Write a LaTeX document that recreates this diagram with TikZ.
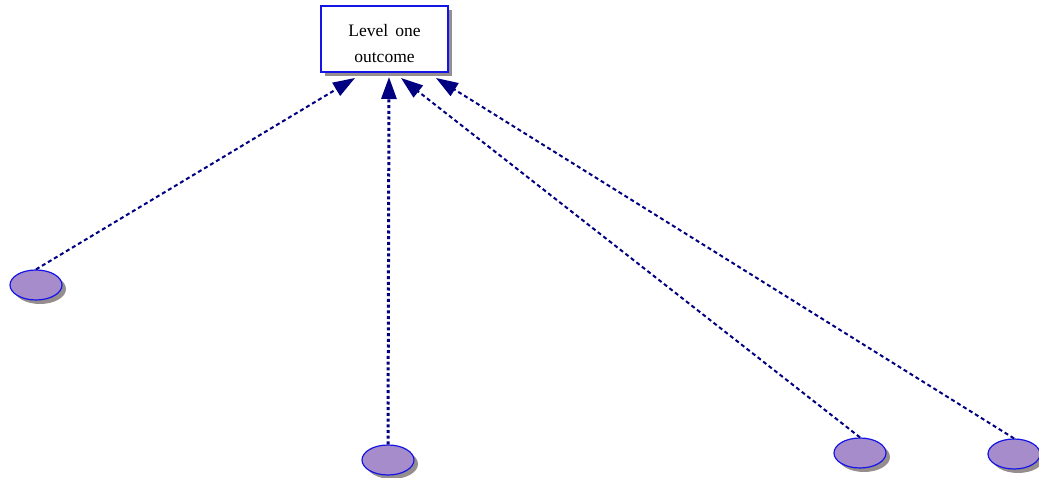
\documentclass[tikz,border=0pt]{standalone}
\usepackage{fontspec}
\setmainfont{Liberation Serif}
\usetikzlibrary{shadows,arrows.meta,shapes.geometric}
\definecolor{navy}{RGB}{0,0,128}
\definecolor{edgeblue}{RGB}{20,20,230}
\definecolor{lavender}{RGB}{167,140,204}
\definecolor{shade}{RGB}{150,142,142}
\tikzset{
  outcome/.style={draw=edgeblue, line width=1.3pt, fill=white, minimum width=127pt,
    minimum height=66pt, inner sep=0pt, align=center,
    font=\fontsize{17.5}{26}\selectfont,
    drop shadow={shadow xshift=4pt, shadow yshift=-4pt, fill=shade, opacity=1}},
  factor/.style={ellipse, draw=edgeblue, line width=1.2pt, fill=lavender,
    minimum width=52pt, minimum height=30pt, inner sep=0pt,
    drop shadow={shadow xshift=4pt, shadow yshift=-4pt, fill=shade, opacity=1}},
  link/.style={draw=navy, line width=2pt, dash pattern=on 4pt off 3pt,
    -{Triangle[length=22pt,width=15pt,fill=navy]}},
  thicklink/.style={link, line width=3pt, dash pattern=on 3pt off 2.7pt}
}
\begin{document}
\begin{tikzpicture}[x=1pt,y=-1pt]
  \useasboundingbox (0,0) rectangle (1039,478);
  \node[outcome] (top) at (384.5,39)
    {\raisebox{-9.4pt}[0pt][0pt]{\begin{tabular}{@{}c@{}}Level\hspace{0.4em}one\\[-0.3pt]outcome\end{tabular}}};
  \node[factor] (f1) at (36,285) {};
  \node[factor] (f2) at (388,460) {};
  \node[factor] (f3) at (860,453) {};
  \node[factor] (f4) at (1014,454) {};
  % arrow ends just below the box
  \coordinate (t1) at (355,78);
  \coordinate (t2) at (389,77);
  \coordinate (t3) at (401,78);
  \coordinate (t4) at (436,78);
  \draw[link] (f1.north) -- (t1);
  \draw[thicklink] (f2.north) -- (t2);
  \draw[link] (f3.north) -- (t3);
  \draw[link] (f4.north) -- (t4);
\end{tikzpicture}
\end{document}
